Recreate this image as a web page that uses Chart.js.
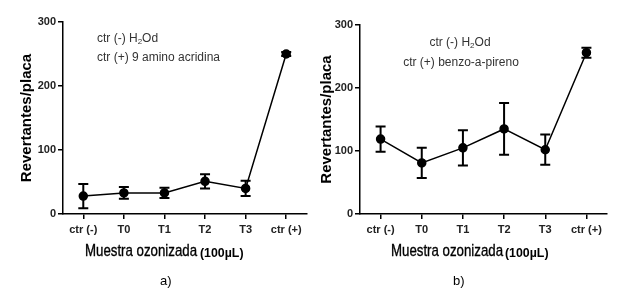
<!DOCTYPE html>
<html><head><meta charset="utf-8">
<script src="https://cdn.jsdelivr.net/npm/chart.js@4/dist/chart.umd.min.js"></script>
<style>
html,body{margin:0;padding:0;background:#fff;}
body{width:617px;height:298px;position:relative;overflow:hidden;font-family:"Liberation Sans",Arial,sans-serif;}
canvas{position:absolute;top:0;}
.t{position:absolute;white-space:nowrap;color:#000;}
.leg{font-size:12px;line-height:14px;color:#333;}
.xt{font-size:17px;line-height:19px;transform:scaleX(0.78);transform-origin:0 50%;-webkit-text-stroke:0.35px #000;}
.xs{font-size:13px;line-height:15px;font-weight:bold;transform:scaleX(0.95);transform-origin:0 50%;}
.pl{font-size:13px;line-height:15px;}
</style></head>
<body>
<canvas id="cA" width="312" height="298" style="left:0;width:312px;height:298px"></canvas>
<canvas id="cB" width="317" height="298" style="left:300px;width:317px;height:298px"></canvas>

<div class="t leg" style="left:97px;top:31px">ctr (-) H<sub style="font-size:8px;vertical-align:-2px">2</sub>Od</div>
<div class="t leg" style="left:97px;top:50px">ctr (+) 9 amino acridina</div>
<div class="t leg" style="left:460px;top:35px;transform:translateX(-50%)">ctr (-) H<sub style="font-size:8px;vertical-align:-2px">2</sub>Od</div>
<div class="t leg" style="left:461px;top:55px;transform:translateX(-50%)">ctr (+) benzo-a-pireno</div>

<div class="t xt" style="left:85px;top:241px">Muestra ozonizada</div>
<div class="t xs" style="left:200px;top:245px">(100µL)</div>
<div class="t xt" style="left:391px;top:241px">Muestra ozonizada</div>
<div class="t xs" style="left:505px;top:245px">(100µL)</div>
<div class="t pl" style="left:160px;top:273px">a)</div>
<div class="t pl" style="left:453px;top:273px">b)</div>

<script>
const categories = ['ctr (-)', 'T0', 'T1', 'T2', 'T3', 'ctr (+)'];
const yTicks = [0, 100, 200, 300];
const meanA = [28, 33, 33, 51, 40, 250];
const errA  = [19, 9, 8, 11, 12, 3];
const meanB = [119, 81, 105, 135, 102, 256];
const errB  = [20, 24, 28, 41, 24, 8];

const errorBars = {
  id: 'errorBars',
  afterDatasetsDraw(chart, args, opts) {
    const ctx = chart.ctx, xs = chart.scales.x, ys = chart.scales.y;
    const means = opts.means, errs = opts.errs;
    ctx.save();
    ctx.strokeStyle = '#000';
    ctx.lineWidth = 2;
    for (let i = 0; i < means.length; i++) {
      const x = xs.getPixelForValue(i);
      const yl = ys.getPixelForValue(means[i] - errs[i]);
      const yh = ys.getPixelForValue(means[i] + errs[i]);
      ctx.beginPath();
      ctx.moveTo(x, yl); ctx.lineTo(x, yh);
      ctx.moveTo(x - 5, yl); ctx.lineTo(x + 5, yl);
      ctx.moveTo(x - 5, yh); ctx.lineTo(x + 5, yh);
      ctx.stroke();
    }
    ctx.restore();
  }
};

function make(id, means, errs, yWidth, padRight, padTop) {
  const tickFont = {family: '"Liberation Sans", Arial, sans-serif', size: 11, weight: 'bold'};
  new Chart(document.getElementById(id), {
    type: 'line',
    data: {
      labels: categories,
      datasets: [{
        data: means,
        borderColor: '#000',
        borderWidth: 1.5,
        pointRadius: 4,
        pointHoverRadius: 4,
        pointBackgroundColor: '#000',
        pointBorderColor: '#000',
        tension: 0
      }]
    },
    options: {
      responsive: false,
      animation: false,
      devicePixelRatio: 1,
      events: [],
      layout: {padding: {top: padTop, right: padRight, bottom: 0, left: 0}},
      plugins: {
        legend: {display: false},
        tooltip: {enabled: false},
        errorBars: {means: means, errs: errs}
      },
      scales: {
        x: {
          type: 'category',
          offset: true,
          grid: {display: true, drawOnChartArea: false, drawTicks: true, tickLength: 5, color: '#000', lineWidth: 1.5, offset: false},
          border: {display: true, color: '#000', width: 1.5},
          ticks: {font: tickFont, color: '#222', padding: 4, maxRotation: 0, autoSkip: false},
          afterFit(s) { s.height = 84; }
        },
        y: {
          min: 0, max: 300,
          afterBuildTicks(s) { s.ticks = yTicks.map(v => ({value: v})); },
          grid: {display: true, drawOnChartArea: false, drawTicks: true, tickLength: 5, color: '#000', lineWidth: 1.5},
          border: {display: true, color: '#000', width: 1.5},
          ticks: {font: tickFont, color: '#222', padding: 2},
          title: {display: true, text: 'Revertantes/placa', color: '#000',
                  font: {family: '"Liberation Sans", Arial, sans-serif', size: 15, weight: 'bold'},
                  padding: {top: 18, bottom: 0}},
          afterFit(s) { s.width = yWidth; }
        }
      }
    },
    plugins: [errorBars]
  });
}

make('cA', meanA, errA, 63, 2, 22);
make('cB', meanB, errB, 60, 10, 25);
</script>
</body></html>
